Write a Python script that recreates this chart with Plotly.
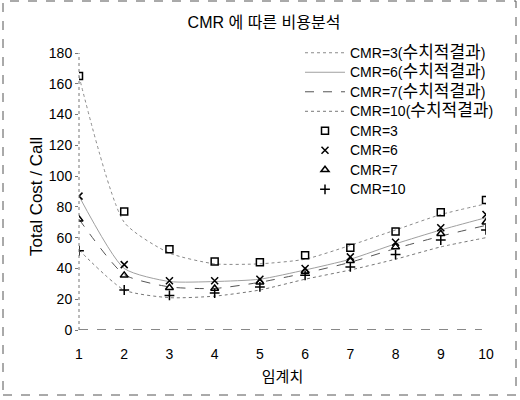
import plotly.graph_objects as go

x_vals = [1, 2, 3, 4, 5, 6, 7, 8, 9, 10]

# numerical results (lines)
line_cmr3 = [165, 70, 50, 43, 43, 46, 55, 65, 75, 82]
line_cmr6 = [87, 40, 31.5, 31.5, 33, 39, 46, 56, 65, 73]
line_cmr7 = [72, 36, 28, 27, 31, 37, 44, 53, 61, 68]
line_cmr10 = [52, 26, 21, 22, 26, 33, 39, 46, 54, 60]

# simulation points (markers)
pts_cmr3 = [165, 77, 52.5, 44.5, 44, 48.5, 53.5, 64, 76.5, 84.5]
pts_cmr6 = [87, 42.5, 32, 32, 33, 40, 47.5, 57, 66.5, 75]
pts_cmr7 = [72, 35.5, 27.5, 27, 31, 38, 45, 54, 62.5, 70]
pts_cmr10 = [51.5, 26, 22.5, 24, 28, 35.5, 41, 49, 58.5, 65]

line_labels = ["CMR=3", "CMR=6", "CMR=7", "CMR=10"]
line_suffix = "수치적결과"
pt_names = ["CMR=3", "CMR=6", "CMR=7", "CMR=10"]
y_ticks = [0, 20, 40, 60, 80, 100, 120, 140, 160, 180]

FONT = "Liberation Sans, Arial, Noto Sans CJK KR, sans-serif"


def legend_text(latin, korean=None):
    s = '<span style="font-size:14px">' + latin
    if korean:
        s += '(</span><span style="font-size:17px">' + korean + '</span><span style="font-size:14px">)'
    return s + "</span>"


fig = go.Figure()
line_styles = [
    dict(color="#8a8a8a", width=1, dash="dot"),
    dict(color="#a0a0a0", width=1, dash="solid"),
    dict(color="#555555", width=1, dash="dash"),
    dict(color="#777777", width=1, dash="dot"),
]
for lab, ys, st in zip(line_labels, [line_cmr3, line_cmr6, line_cmr7, line_cmr10], line_styles):
    fig.add_trace(go.Scatter(x=x_vals, y=ys, name=legend_text(lab, line_suffix), mode="lines",
                             line=dict(shape="spline", smoothing=0.6, **st)))

symbols = ["square-open", "x-thin-open", "triangle-up-open", "cross-thin-open"]
for name, ys, sym in zip(pt_names, [pts_cmr3, pts_cmr6, pts_cmr7, pts_cmr10], symbols):
    fig.add_trace(go.Scatter(x=x_vals, y=ys, name=legend_text(name), mode="markers",
                             marker=dict(symbol=sym, size=7, color="black",
                                         line=dict(color="black", width=1.5))))

# plot area geometry (pixels) for the outer frame
L, R, T, B = 79, 34, 53, 70
W, H = 520 - L - R, 400 - T - B


def px_x(p):
    return (p - L) / W


def px_y(p):
    return (400 - B - p) / H


shapes = [
    dict(type="rect", xref="paper", yref="paper", x0=px_x(3), x1=px_x(516), y0=px_y(395), y1=px_y(1),
         line=dict(color="#555555", width=1, dash="dash")),
    dict(type="line", xref="paper", yref="y", x0=0, x1=0.99, y0=0, y1=0,
         line=dict(color="#888888", width=2, dash="dash")),
    dict(type="line", xref="paper", yref="paper", x0=0, x1=0, y0=0, y1=1,
         line=dict(color="#777777", width=1, dash="dot")),
]

fig.update_layout(
    width=520, height=400,
    margin=dict(l=L, r=R, t=T, b=B),
    paper_bgcolor="white", plot_bgcolor="white",
    font=dict(family=FONT, color="black"),
    title=dict(text="CMR 에 따른 비용분석", x=264 / 520, xanchor="center", y=1 - 22 / 400, yanchor="middle",
               font=dict(size=16, family=FONT, color="black")),
    showlegend=True,
    legend=dict(x=px_x(300), y=px_y(38), xanchor="left", yanchor="top",
                bgcolor="rgba(0,0,0,0)", font=dict(size=12.7, family=FONT, color="black"),
                tracegroupgap=0, itemwidth=40),
    shapes=shapes,
    annotations=[dict(text="Total Cost / Call", textangle=-90, xref="paper", yref="paper",
                      x=px_x(36), y=px_y(197), xanchor="center", yanchor="middle", showarrow=False,
                      font=dict(size=17, family=FONT, color="black"))],
)
fig.update_xaxes(range=[1, 10], tickvals=x_vals, showgrid=False, zeroline=False, showline=False,
                 ticks="", ticklabelstandoff=14, tickfont=dict(size=14),
                 title=dict(text="임계치", font=dict(size=15), standoff=10))
fig.update_yaxes(range=[0, 180], tickvals=y_ticks, showgrid=False, zeroline=False, showline=False,
                 ticks="outside", ticklen=3, tickcolor="#777777", tickfont=dict(size=14))

fig.write_html("out.html")
